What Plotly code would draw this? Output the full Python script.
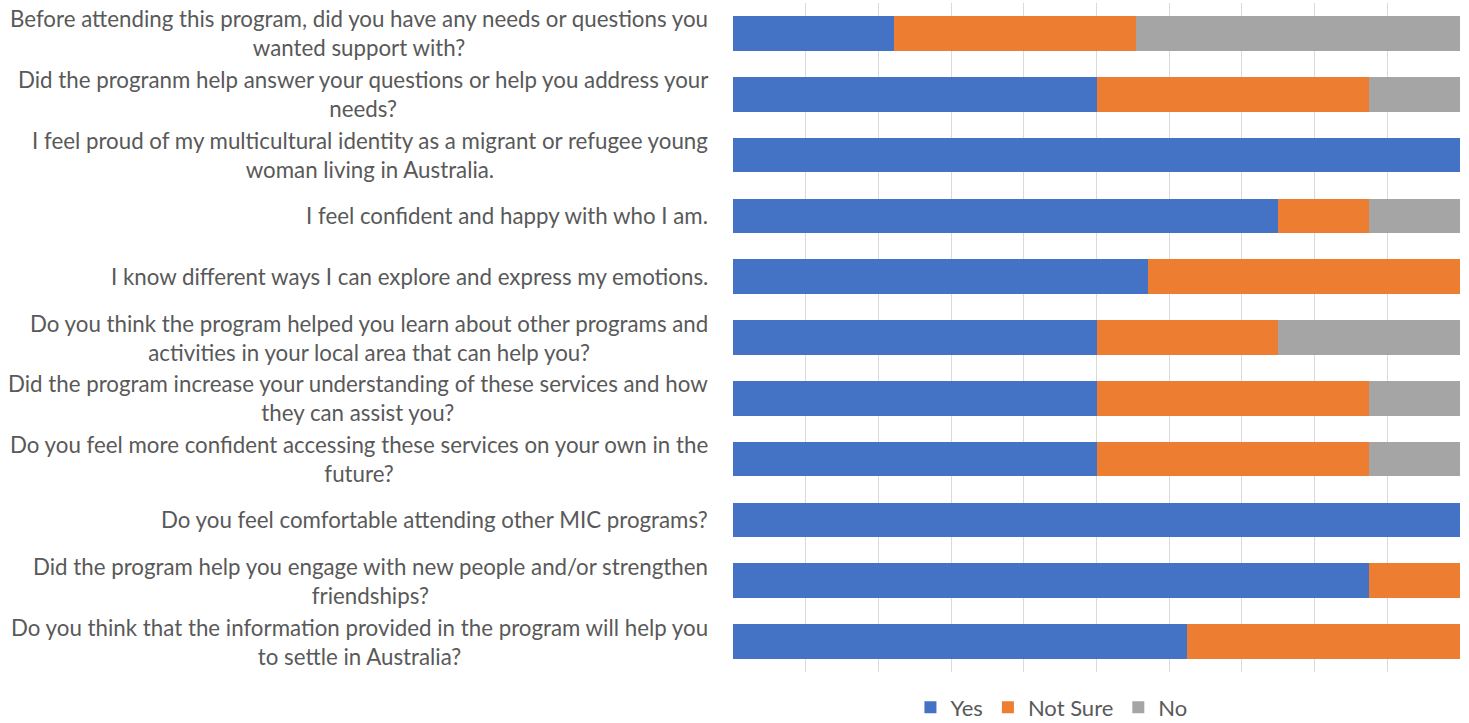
import plotly.graph_objects as go

questions = [
    "Before attending this program, did you have any needs or questions you<br>wanted support with?",
    "Did the progranm help answer your questions or help you address your<br>needs?",
    "I feel proud of my multicultural identity as a migrant or refugee young<br>woman living in Australia.",
    "I feel confident and happy with who I am.",
    "I know different ways I can explore and express my emotions.",
    "Do you think the program helped you learn about other programs and<br>activities in your local area that can help you?",
    "Did the program increase your understanding of these services and how<br>they can assist you?",
    "Do you feel more confident accessing these services on your own in the<br>future?",
    "Do you feel comfortable attending other MIC programs?",
    "Did the program help you engage with new people and/or strengthen<br>friendships?",
    "Do you think that the information provided in the program will help you<br>to settle in Australia?",
]

yes = [22.2, 50, 100, 75, 57.1, 50, 50, 50, 100, 87.5, 62.5]
not_sure = [33.3, 37.5, 0, 12.5, 42.9, 25, 37.5, 37.5, 0, 12.5, 37.5]
no = [44.5, 12.5, 0, 12.5, 0, 25, 12.5, 12.5, 0, 0, 0]

series = [("Yes", yes, "#4472C4"), ("Not Sure", not_sure, "#ED7D31"), ("No", no, "#A5A5A5")]

FONT = "Lato, 'Liberation Sans', sans-serif"
TEXT_COLOR = "#595959"

fig = go.Figure()
for name, vals, color in series:
    fig.add_trace(go.Bar(
        y=questions, x=vals, name=name, orientation="h",
        marker=dict(color=color, line=dict(width=0)),
        hoverinfo="x+name",
    ))

annotations = []
for q in questions:
    annotations.append(dict(
        xref="paper", yref="y", x=0, y=q, xshift=-23,
        xanchor="right", yanchor="middle", align="center",
        text=q, showarrow=False,
        font=dict(family=FONT, size=22.3, color=TEXT_COLOR),
    ))

fig.update_layout(
    width=1469, height=723,
    margin=dict(l=733, r=9, t=3, b=51, autoexpand=False),
    barmode="stack", barnorm="percent", bargap=0.43,
    plot_bgcolor="white", paper_bgcolor="white",
    font=dict(family=FONT, size=22, color=TEXT_COLOR),
    xaxis=dict(range=[0, 100], dtick=10, showgrid=True, gridcolor="#D9D9D9",
               gridwidth=1, showticklabels=False, zeroline=False, showline=False,
               fixedrange=True),
    yaxis=dict(autorange="reversed", showticklabels=False, showgrid=False,
               zeroline=False, showline=False, type="category"),
    legend=dict(orientation="h", x=0.438, xanchor="center", y=-0.053, yanchor="middle",
                font=dict(family=FONT, size=22, color=TEXT_COLOR), traceorder="normal",
                itemwidth=30),
    annotations=annotations,
    showlegend=True,
)

fig.write_html("out.html")
